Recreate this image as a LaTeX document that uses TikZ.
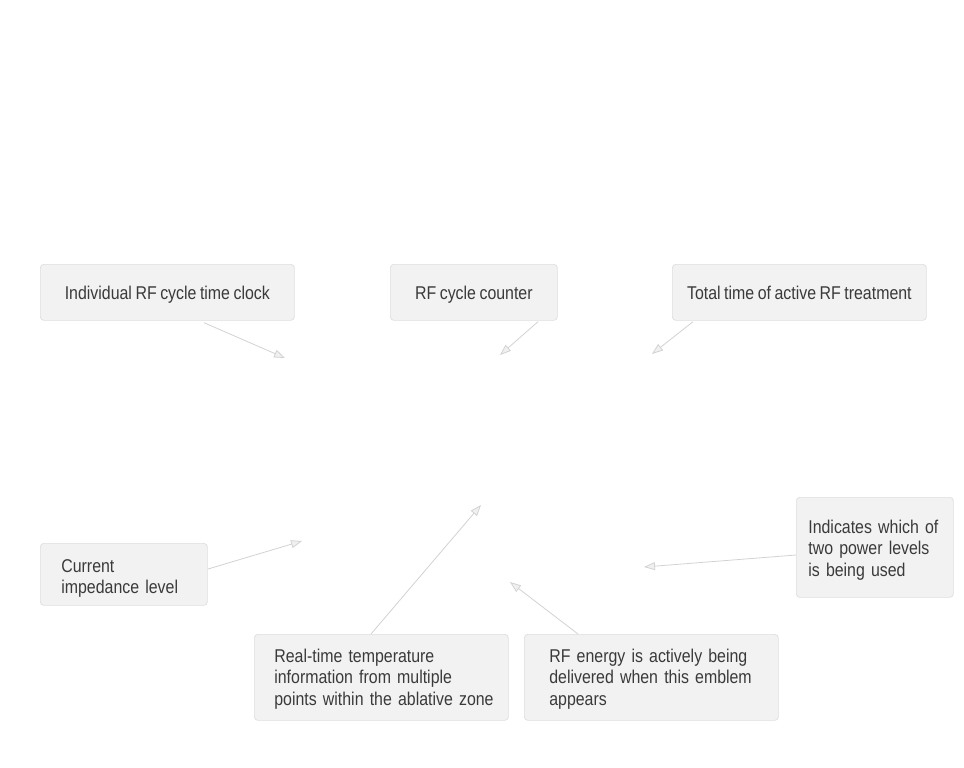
\documentclass[tikz,border=0pt]{standalone}
\usepackage{fontspec}
\setmainfont{Liberation Sans}[FakeStretch=0.86, WordSpace=0.8]
\usetikzlibrary{arrows.meta}
\definecolor{boxfill}{HTML}{F2F2F2}
\definecolor{boxline}{HTML}{DEDEDE}
\definecolor{txt}{HTML}{3A3A3A}
\definecolor{arrline}{HTML}{D2D2D2}
\definecolor{arrfill}{HTML}{F0F0F0}
\tikzset{
  callout/.style={draw=boxline, fill=boxfill, rounded corners=3.5pt, line width=0.7pt,
    text=txt, font=\fontsize{18.5}{21.7}\selectfont, inner ysep=0pt, anchor=north west},
  oneline/.style={callout, align=center, text height=18pt, text depth=4pt, minimum height=56pt},
  multiline/.style={callout, align=left},
  arr/.style={draw=arrline, line width=0.8pt,
    -{Triangle[open, length=11pt, width=8pt, fill=arrfill]}},
}
\begin{document}
\begin{tikzpicture}[x=1pt,y=-1pt]
\useasboundingbox (0,0) rectangle (964,768);
% top row
\node[oneline, minimum width=254pt] (b1) at (40,264) {Individual RF cycle time clock};
\node[oneline, minimum width=167pt] (b2) at (390,264) {RF cycle counter};
\node[oneline, minimum width=254pt] (b3) at (672,264) {Total time of active RF treatment};
% left
\node[multiline, inner xsep=21pt, text width=125pt, minimum height=62pt] (b4) at (40,543)
  {\rule{0pt}{21pt}\mbox{Current}\\\mbox{impedance level}};
% right
\node[multiline, inner xsep=12pt, text width=133pt, minimum height=100pt] (b5) at (796,497)
  {\rule{0pt}{19pt}\mbox{Indicates which of}\\\mbox{two power levels}\\\mbox{is being used}};
% bottom
\node[multiline, inner xsep=20pt, text width=214pt, minimum height=86pt] (b6) at (254,634)
  {\rule{0pt}{17pt}\mbox{Real-time temperature}\\\mbox{information from multiple}\\\mbox{points within the ablative zone}};
\node[multiline, inner xsep=25pt, text width=204pt, minimum height=86pt] (b7) at (524,634)
  {\rule{0pt}{17pt}\mbox{RF energy is actively being}\\\mbox{delivered when this emblem}\\\mbox{appears}};
% arrow tips
\coordinate (t1) at (285,358);
\coordinate (t2) at (500,355);
\coordinate (t3) at (652,354);
\coordinate (t4) at (302,541);
\coordinate (t5) at (644,567);
\coordinate (t6) at (481,505);
\coordinate (t7) at (510,582);
\draw[arr] (b1.south west) ++(164,2) -- (t1);
\draw[arr] (b2.south west) ++(148,1) -- (t2);
\draw[arr] (b3.south west) ++(21,1) -- (t3);
\draw[arr] (b4.north west) ++(168,26) -- (t4);
\draw[arr] (b5.north west) ++(0,58) -- (t5);
\draw[arr] (b6.north west) ++(117,0) -- (t6);
\draw[arr] (b7.north west) ++(54,0) -- (t7);
\end{tikzpicture}
\end{document}
